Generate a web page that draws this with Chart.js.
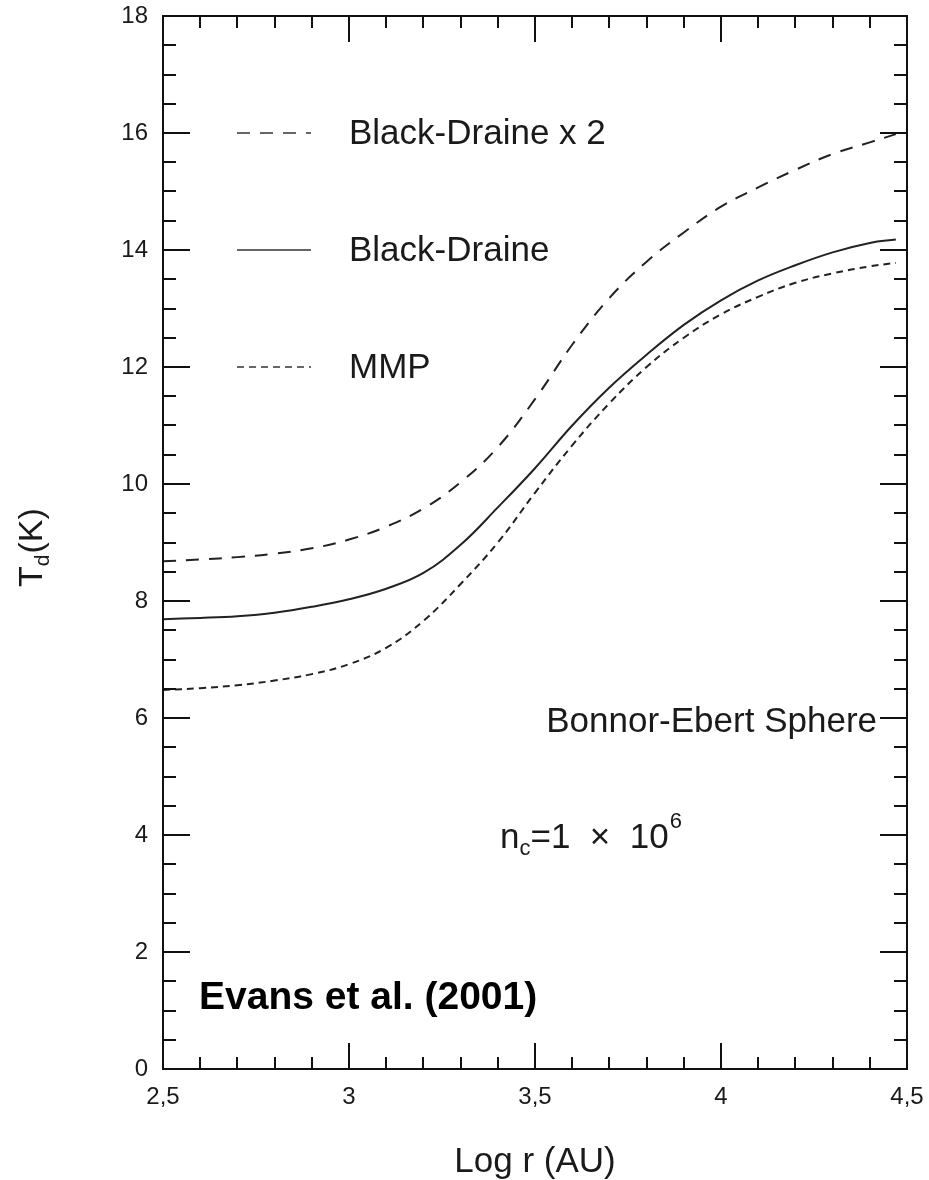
<!DOCTYPE html>
<html>
<head>
<meta charset="utf-8">
<script src="https://cdn.jsdelivr.net/npm/chart.js@4.4.1/dist/chart.umd.min.js"></script>
<style>
  html, body { margin: 0; padding: 0; background: #fff; }
  #wrap { width: 929px; height: 1180px; position: relative; }
</style>
</head>
<body>
<div id="wrap"><canvas id="c" width="929" height="1180"></canvas></div>
<script>
// ---- data ----
const logR = [2.5, 2.6, 2.7, 2.8, 2.9, 3.0, 3.1, 3.2, 3.3, 3.4, 3.5, 3.6, 3.7, 3.8, 3.9, 4.0, 4.1, 4.2, 4.3, 4.4, 4.47];
const blackDraineX2 = [8.68, 8.71, 8.75, 8.81, 8.90, 9.05, 9.27, 9.58, 10.03, 10.63, 11.45, 12.38, 13.18, 13.80, 14.30, 14.74, 15.07, 15.37, 15.64, 15.84, 15.98];
const blackDraine   = [7.69, 7.71, 7.74, 7.80, 7.90, 8.03, 8.21, 8.48, 8.96, 9.60, 10.27, 11.00, 11.65, 12.21, 12.72, 13.14, 13.48, 13.74, 13.96, 14.12, 14.18];
const mmp           = [6.48, 6.51, 6.56, 6.64, 6.75, 6.92, 7.20, 7.66, 8.29, 9.00, 9.85, 10.66, 11.38, 12.00, 12.50, 12.90, 13.20, 13.44, 13.60, 13.72, 13.78];
const seriesLabels = ['Black-Draine x 2', 'Black-Draine', 'MMP'];
const xTickValues = [2.5, 3, 3.5, 4, 4.5];
const yTickValues = [0, 2, 4, 6, 8, 10, 12, 14, 16, 18];
const xTitle = 'Log r (AU)';
const annotBES = 'Bonnor-Ebert Sphere';
const citation = 'Evans et al. (2001)';

const FONT = "'Liberation Sans', Arial, Helvetica, sans-serif";
const pts = ys => logR.map((x, i) => ({x: x, y: ys[i]}));

const dashes = [[13, 10], [], [7, 5]];

const decor = {
  id: 'decor',
  afterDraw(chart) {
    const ctx = chart.ctx;
    const xs = chart.scales.x, ys = chart.scales.y;
    const a = chart.chartArea;
    ctx.save();
    ctx.strokeStyle = '#111';
    ctx.lineWidth = 2;
    ctx.setLineDash([]);
    ctx.strokeRect(a.left, a.top, a.right - a.left, a.bottom - a.top);
    for (let k = 0; k <= 20; k++) {
      const v = 2.5 + k * 0.1;
      const px = Math.round(xs.getPixelForValue(v));
      const major = (k % 5 === 0);
      const len = major ? 26 : 12;
      ctx.beginPath();
      ctx.moveTo(px, a.bottom); ctx.lineTo(px, a.bottom - len);
      ctx.moveTo(px, a.top); ctx.lineTo(px, a.top + len);
      ctx.stroke();
    }
    for (let k = 0; k <= 36; k++) {
      const v = k * 0.5;
      const py = Math.round(ys.getPixelForValue(v));
      const major = (k % 4 === 0);
      const len = major ? 27 : 13;
      ctx.beginPath();
      ctx.moveTo(a.left, py); ctx.lineTo(a.left + len, py);
      ctx.moveTo(a.right, py); ctx.lineTo(a.right - len, py);
      ctx.stroke();
    }
    const legY = [133, 250, 367];
    chart.data.datasets.forEach((ds, i) => {
      ctx.strokeStyle = '#666';
      ctx.lineWidth = 2;
      ctx.setLineDash(dashes[i]);
      ctx.beginPath();
      ctx.moveTo(237, legY[i]); ctx.lineTo(311, legY[i]);
      ctx.stroke();
      ctx.setLineDash([]);
      ctx.fillStyle = '#1a1a1a';
      ctx.font = '35px ' + FONT;
      ctx.textAlign = 'left';
      ctx.textBaseline = 'middle';
      ctx.fillText(ds.label, 349, legY[i] + 1);
    });
    ctx.setLineDash([]);
    ctx.fillStyle = '#1a1a1a';
    ctx.font = '35px ' + FONT;
    ctx.textAlign = 'right';
    ctx.textBaseline = 'alphabetic';
    ctx.fillText(annotBES, 877, 732);
    ctx.textAlign = 'left';
    let x = 500;
    const base = 848;
    ctx.font = '35px ' + FONT;
    ctx.fillText('n', x, base); x += ctx.measureText('n').width;
    ctx.font = '22px ' + FONT;
    ctx.fillText('c', x, base + 7); x += ctx.measureText('c').width;
    ctx.font = '35px ' + FONT;
    const mid = '=1  \u00d7  10';
    ctx.fillText(mid, x, base); x += ctx.measureText(mid).width;
    ctx.font = '22px ' + FONT;
    ctx.fillText('6', x + 1, base - 20);
    ctx.font = 'bold 39px ' + FONT;
    ctx.fillStyle = '#000';
    ctx.fillText(citation, 199, 1009);
    ctx.fillStyle = '#1a1a1a';
    ctx.font = '35px ' + FONT;
    ctx.textAlign = 'center';
    ctx.fillText(xTitle, (a.left + a.right) / 2, 1172);
    ctx.save();
    ctx.translate(42, 587);
    ctx.rotate(-Math.PI / 2);
    ctx.textAlign = 'left';
    let tx = 0;
    ctx.font = '34px ' + FONT;
    ctx.fillText('T', tx, 0); tx += ctx.measureText('T').width;
    ctx.font = '21px ' + FONT;
    ctx.fillText('d', tx, 7); tx += ctx.measureText('d').width + 1;
    ctx.font = '34px ' + FONT;
    ctx.fillText('(K)', tx, 0);
    ctx.restore();
    ctx.restore();
  }
};

const lineDs = (i, ys) => ({
  label: seriesLabels[i], data: pts(ys), borderColor: '#222', borderWidth: 2,
  borderDash: dashes[i], pointRadius: 0, tension: 0.4, fill: false
});

new Chart(document.getElementById('c'), {
  type: 'line',
  data: { datasets: [lineDs(0, blackDraineX2), lineDs(1, blackDraine), lineDs(2, mmp)] },
  options: {
    responsive: false,
    animation: false,
    events: [],
    layout: { padding: { top: 16, right: 22, bottom: 0, left: 0 } },
    plugins: { legend: { display: false }, tooltip: { enabled: false }, title: { display: false } },
    scales: {
      x: {
        type: 'linear', min: 2.5, max: 4.5,
        grid: { display: false, drawTicks: false },
        border: { display: false },
        afterBuildTicks: s => { s.ticks = xTickValues.map(v => ({value: v})); },
        afterFit: s => { s.height = 111; s.paddingLeft = 0; s.paddingRight = 0; },
        ticks: {
          padding: 14, color: '#1a1a1a', font: { size: 24, family: FONT },
          maxRotation: 0, autoSkip: false,
          callback: v => String(v).replace('.', ',')
        }
      },
      y: {
        type: 'linear', min: 0, max: 18,
        grid: { display: false, drawTicks: false },
        border: { display: false },
        afterBuildTicks: s => { s.ticks = yTickValues.map(v => ({value: v})); },
        afterFit: s => { s.width = 163; s.paddingTop = 0; s.paddingBottom = 0; },
        ticks: {
          padding: 15, color: '#1a1a1a', font: { size: 24, family: FONT },
          autoSkip: false,
          callback: v => String(v)
        }
      }
    }
  },
  plugins: [decor]
});
</script>
</body>
</html>
